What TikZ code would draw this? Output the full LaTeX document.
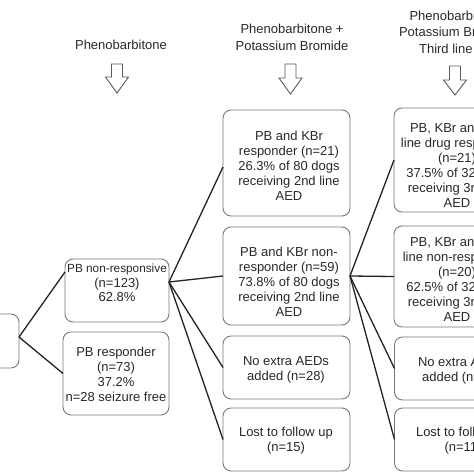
\documentclass[tikz,border=0pt]{standalone}
\usepackage{fontspec}
\setmainfont{Liberation Sans}
\definecolor{boxgray}{RGB}{120,120,120}
\definecolor{txtcol}{RGB}{40,40,40}
\definecolor{linecol}{RGB}{35,35,35}
\definecolor{arrowcol}{RGB}{90,90,90}
\newcommand{\hollowdown}[4]{% centre x, top y, head start y, tip y
  \draw[hollow] (#1-5.5,#2) -- (#1+5.5,#2) -- (#1+5.5,#3) -- (#1+11.5,#3)
    -- (#1,#4) -- (#1-11.5,#3) -- (#1-5.5,#3) -- cycle;}
\begin{document}
\begin{tikzpicture}[x=1pt,y=-1pt,
  box/.style={draw=boxgray, line width=0.9pt, rounded corners=8pt, inner sep=0pt, outer sep=0pt},
  txt/.style={text=txtcol, align=center, font=\fontsize{13}{15}\selectfont, inner sep=0pt},
  head/.style={text=txtcol, align=center, font=\fontsize{13}{16.5}\selectfont, inner sep=0pt},
  link/.style={draw=linecol, line width=1.3pt},
  hollow/.style={draw=arrowcol, line width=0.9pt, fill=white}]
\useasboundingbox (0,0) rectangle (474,474);
\clip (0,0) rectangle (474,474);

% headers
\node[head] (h1) at (121,45) {Phenobarbitone};
\node[head] (h2) at (292,37.5) {Phenobarbitone +\\Potassium Bromide};
\node[head] (h3) at (461,32) {Phenobarbitone +\\Potassium Bromide +\\Third line AED};
\hollowdown{117}{64}{77}{93}
\hollowdown{290.5}{64}{78}{94}
\hollowdown{455}{66}{80}{95}

% boxes
\node[box, minimum width=49pt, minimum height=54pt] (L) at (-5.5,341) {};
\node[box, minimum width=104pt, minimum height=63pt] (nonresp) at (117,290.5) {};
\node[box, minimum width=106pt, minimum height=83pt] (resp) at (116,373.5) {};
\node[box, minimum width=127pt, minimum height=106pt] (A) at (286.5,163) {};
\node[box, minimum width=127pt, minimum height=98pt] (B) at (286.5,276) {};
\node[box, minimum width=127pt, minimum height=63pt] (C) at (286.5,367.5) {};
\node[box, minimum width=127pt, minimum height=63pt] (D) at (286.5,439.5) {};
\node[box, minimum width=127pt, minimum height=104pt] (E) at (457.5,160) {};
\node[box, minimum width=127pt, minimum height=101pt] (F) at (457.5,276.5) {};
\node[box, minimum width=127pt, minimum height=63pt] (G) at (458,368.5) {};
\node[box, minimum width=127pt, minimum height=63pt] (H) at (458,439.5) {};

% texts
\node[txt, font=\fontsize{11.8}{14.5}\selectfont] (tnr) at (117,283) {PB non-responsive\\\fontsize{13}{15}\selectfont(n=123)\\\fontsize{13}{15}\selectfont62.8\%};
\node[txt] (tr) at (116,374) {PB responder\\(n=73)\\37.2\%\\n=28 seizure free};
\node[txt] (tA) at (289,166) {PB and KBr\\responder (n=21)\\26.3\% of 80 dogs\\receiving 2nd line\\AED};
\node[txt] (tB) at (289,282) {PB and KBr non-\\responder (n=59)\\73.8\% of 80 dogs\\receiving 2nd line\\AED};
\node[txt] (tC) at (286,370) {No extra AEDs\\added (n=28)};
\node[txt] (tD) at (286,440.5) {Lost to follow up\\(n=15)};
\node[txt] (tE) at (457,165.5) {PB, KBr and 3rd\\line drug responder\\(n=21)\\37.5\% of 32 dogs\\receiving 3rd line\\AED};
\node[txt] (tF) at (457,279) {PB, KBr and 3rd\\line non-responder\\(n=20)\\62.5\% of 32 dogs\\receiving 3rd line\\AED};
\node[txt] (tG) at (461,371) {No extra AEDs\\added (n=10)};
\node[txt] (tH) at (463,440.5) {Lost to follow up\\(n=11)};

% connectors
\draw[link] ([yshift=4pt]L.east) -- ([yshift=-13pt]nonresp.north west);
\draw[link] ([yshift=4pt]L.east) -- (resp.west);
\draw[link] ([yshift=8.5pt]nonresp.east) -- ([yshift=-4pt]A.west);
\draw[link] ([yshift=8.5pt]nonresp.east) -- (B.west);
\draw[link] ([yshift=8.5pt]nonresp.east) -- (C.west);
\draw[link] ([yshift=8.5pt]nonresp.east) -- (D.west);
\draw[link] (B.east) -- (E.west);
\draw[link] (B.east) -- (F.west);
\draw[link] (B.east) -- (G.west);
\draw[link] (B.east) -- (H.west);
\end{tikzpicture}
\end{document}
